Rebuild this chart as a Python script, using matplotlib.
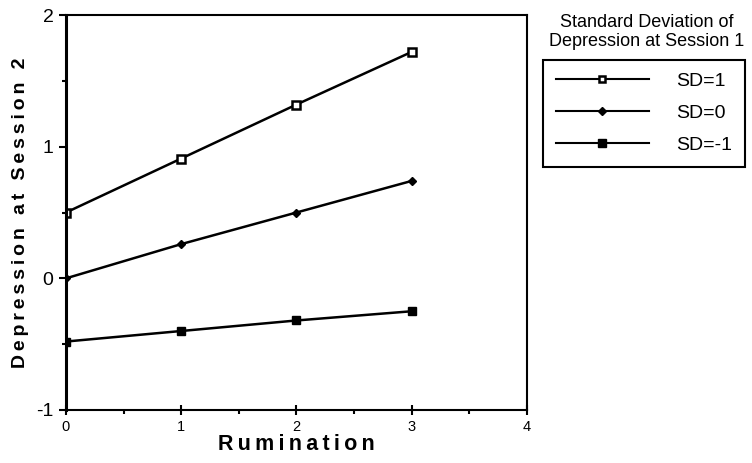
import numpy as np
import matplotlib.pyplot as plt
from matplotlib.ticker import MultipleLocator

# data
rumination = [0, 1, 2, 3]
sd_plus = [0.50, 0.91, 1.32, 1.72]
sd_zero = [0.00, 0.26, 0.50, 0.74]
sd_minus = [-0.48, -0.40, -0.32, -0.25]
labels = ['SD=1', 'SD=0', 'SD=-1']

FONT = ['Liberation Sans', 'DejaVu Sans']
plt.rcParams['font.family'] = FONT
plt.rcParams['axes.unicode_minus'] = False


def spaced(s):
    # fake letter spacing with thin spaces
    return '\u2009'.join(s)


fig = plt.figure(figsize=(7.52, 4.63), dpi=100)
ax = fig.add_axes([66 / 752, 1 - 410 / 463, (527 - 66) / 752, (410 - 15) / 463])

ax.plot(rumination, sd_plus, color='black', lw=1.8, marker='s', ms=5.5,
        mfc='white', mec='black', mew=1.8, label=labels[0])
ax.plot(rumination, sd_zero, color='black', lw=1.8, marker='D', ms=4.5,
        mfc='black', mec='black', label=labels[1])
ax.plot(rumination, sd_minus, color='black', lw=1.8, marker='s', ms=6,
        mfc='black', mec='black', label=labels[2])

ax.set_xlim(0, 4)
ax.set_ylim(-1, 2)
ax.xaxis.set_major_locator(MultipleLocator(1))
ax.xaxis.set_minor_locator(MultipleLocator(0.5))
ax.yaxis.set_major_locator(MultipleLocator(1))
ax.yaxis.set_minor_locator(MultipleLocator(0.5))
ax.tick_params(axis='x', which='major', direction='inout', length=7, width=1.5,
               labelsize=10.5, pad=4)
ax.tick_params(axis='x', which='minor', direction='out', length=3, width=1.5)
ax.tick_params(axis='y', which='major', direction='out', length=5, width=1.5,
               labelsize=14, pad=4)
ax.tick_params(axis='y', which='minor', direction='out', length=3, width=1.5)

for side in ['top', 'right', 'bottom']:
    ax.spines[side].set_linewidth(1.5)
ax.spines['left'].set_linewidth(2.2)

ax.set_xlabel(spaced('Rumination'), fontsize=15.5, fontweight='bold', labelpad=0)
ax.set_ylabel(spaced('Depression at Session 2'), fontsize=14, fontweight='bold',
              labelpad=5)

fig.text(647 / 752, 1 - 32 / 463, 'Standard Deviation of\nDepression at Session 1',
         ha='center', va='center', fontsize=13, linespacing=1.15)

leg = ax.legend(loc='upper left', bbox_to_anchor=(543 / 752, 1 - 60 / 463),
                bbox_transform=fig.transFigure, borderaxespad=0,
                fancybox=False, edgecolor='black', fontsize=14,
                handlelength=4.8, handletextpad=1.4, labelspacing=0.73,
                borderpad=0.65, markerscale=0.85)
leg.get_frame().set_linewidth(1.5)
leg.get_frame().set_alpha(1)
for h in leg.get_lines():
    h.set_linewidth(1.5)

fig.savefig('out.png', dpi=100)
